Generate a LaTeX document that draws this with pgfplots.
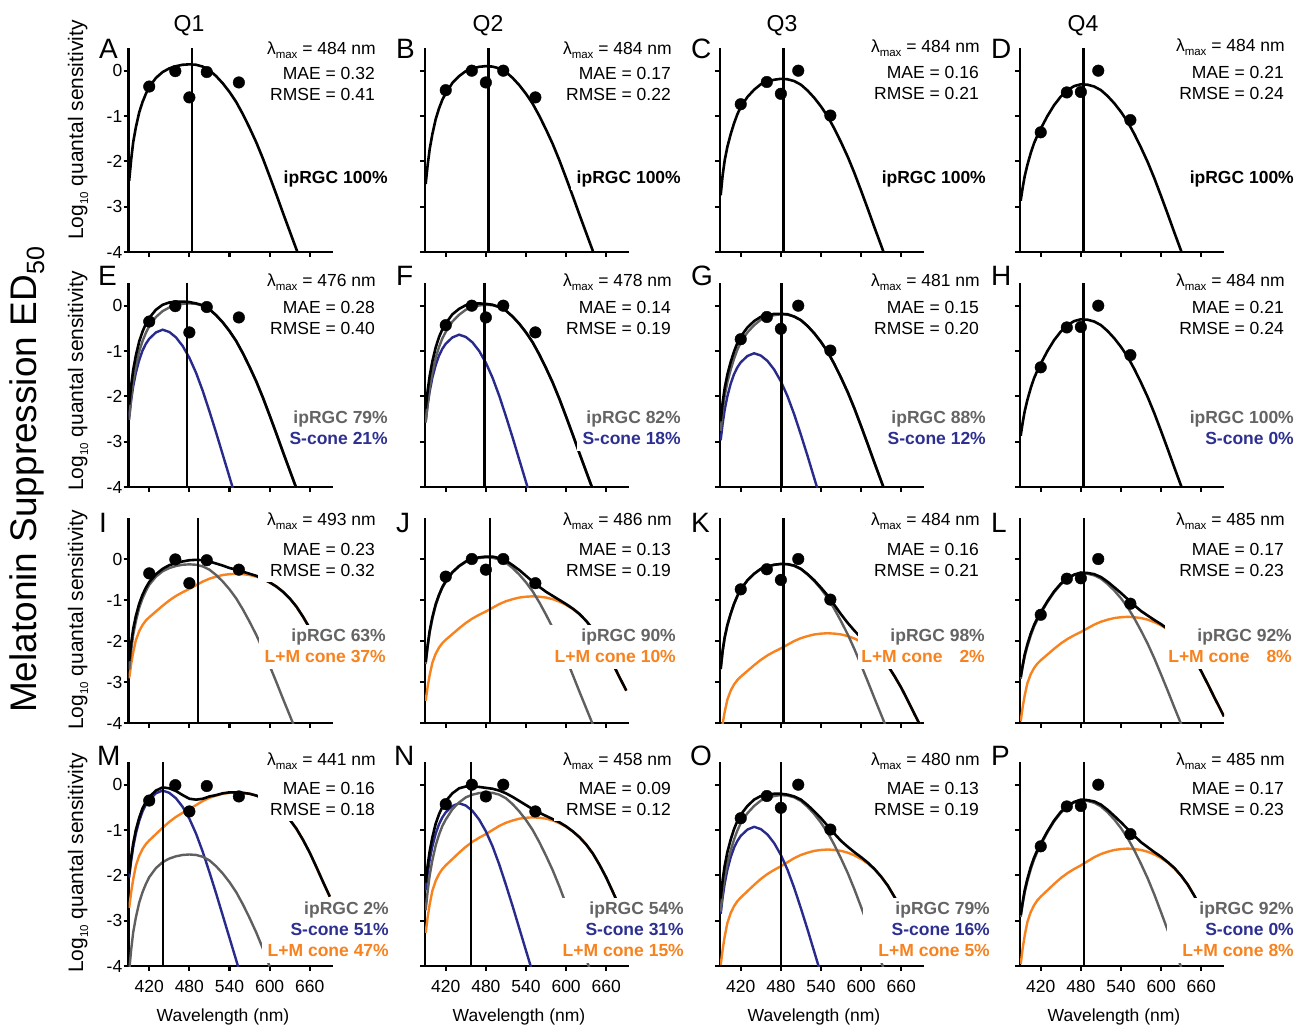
\documentclass[border=0pt]{standalone}
\usepackage{fontspec}
\setmainfont{Liberation Sans}
\usepackage{pgfplots}
\pgfplotsset{compat=1.18}
\definecolor{cgray}{RGB}{95,95,95}
\definecolor{cblue}{RGB}{40,42,140}
\definecolor{corange}{RGB}{247,130,30}
\definecolor{lgray}{RGB}{100,100,100}
\definecolor{lblue}{RGB}{45,48,145}
\definecolor{lorange}{RGB}{247,130,30}
\newcommand{\tf}{\fontsize{17.5pt}{21pt}\selectfont}
\newcommand{\sub}[1]{\raisebox{-0.45ex}{\fontsize{11.5pt}{12pt}\selectfont #1}}
\newcommand{\stats}[6]{%
  \fill[white] ({#1pt-118pt},{-#2pt+17pt}) rectangle ({#1pt+6pt},{-#2pt-#3pt-27pt});
  \node[anchor=base east,inner sep=0pt,font=\tf] at (#1pt,-#2pt) {λ\sub{max} = #4 nm};
  \node[anchor=base east,inner sep=0pt,font=\tf] at ({#1pt-1pt},{-#2pt-#3pt}) {MAE = #5};
  \node[anchor=base east,inner sep=0pt,font=\tf] at ({#1pt-1pt},{-#2pt-#3pt-21pt}) {RMSE = #6};}
\newcommand{\lbox}[4]{\fill[white] ({#1pt-#4pt},{-#2pt+16pt}) rectangle ({#1pt+6pt},{-#3pt-7pt});}
\newcommand{\lab}[4]{\node[anchor=base east,inner sep=0pt,font=\tf\bfseries,text=#4] at (#1pt,-#2pt) {#3};}
\pgfplotsset{
 panel/.style={scale only axis, width=204pt, height=204pt, xmin=389, xmax=694, ymin=-4, ymax=0.5,
   axis x line*=bottom, axis y line*=left, axis line style={line width=2.2pt,-},
   xtick={420,480,540,600,660}, ytick={-4,-3,-2,-1,0}, xticklabels={}, yticklabels={},
   tick align=outside, major tick length=5pt, tick style={line width=2.2pt,black},
   clip mode=individual, anchor=south west,
   ticklabel style={font=\fontsize{17.5pt}{20pt}\selectfont, inner sep=1pt},
   xticklabel style={yshift=-8pt}},
 c1/.style={yticklabels={-4,-3,-2,-1,0}},
 r3/.style={ymax=1, height=205pt},
 r4/.style={xticklabels={420,480,540,600,660}},
 bk/.style={black, line width=2.6pt},
 gr/.style={cgray, line width=2.4pt},
 bl/.style={cblue, line width=2.4pt},
 og/.style={corange, line width=2.4pt},
 vl/.style={black, line width=2.2pt},
 dt/.style={only marks, mark=*, mark size=5.8pt, black},
}
\begin{document}
\begin{tikzpicture}
\useasboundingbox (0pt,0pt) rectangle (1309pt,-1028pt);
% ================= ROW 1 =================
\begin{axis}[panel,c1,at={(128.5pt,-252pt)}]
\addplot[bk] coordinates {(390,-2.43)(393,-1.96)(396,-1.58)(400,-1.25)(405,-0.92)(410,-0.69)(415,-0.51)(420,-0.36)(430,-0.16)(440,-0.03)(450,0.05)(460,0.10)(470,0.13)(480,0.14)(490,0.13)(500,0.09)(510,0.01)(520,-0.12)(530,-0.28)(540,-0.47)(550,-0.69)(560,-0.96)(570,-1.26)(580,-1.58)(590,-1.94)(600,-2.33)(610,-2.73)(620,-3.14)(630,-3.54)(640,-3.94)(650,-4.36)};
\addplot[vl] coordinates {(484,-4)(484,0.5)};
\addplot[dt] coordinates {(420,-0.35)(459,-0.01)(480,-0.59)(506,-0.03)(554,-0.26)};
\end{axis}
\begin{axis}[panel,at={(425pt,-252pt)}]
\addplot[bk] coordinates {(390,-2.50)(393,-2.08)(396,-1.73)(400,-1.40)(405,-1.07)(410,-0.83)(415,-0.64)(420,-0.50)(430,-0.27)(440,-0.12)(450,-0.01)(460,0.05)(470,0.085)(480,0.10)(490,0.09)(500,0.05)(510,-0.03)(520,-0.16)(530,-0.32)(540,-0.51)(550,-0.73)(560,-1.00)(570,-1.30)(580,-1.62)(590,-1.98)(600,-2.37)(610,-2.77)(620,-3.18)(630,-3.58)(640,-3.98)(650,-4.40)};
\addplot[vl] coordinates {(484,-4)(484,0.5)};
\addplot[dt] coordinates {(420,-0.43)(459,0.0)(480,-0.26)(506,0.0)(554,-0.59)};
\end{axis}
\begin{axis}[panel,at={(720pt,-252pt)}]
\addplot[bk] coordinates {(390,-2.75)(393,-2.30)(396,-1.98)(400,-1.68)(405,-1.40)(410,-1.16)(415,-0.96)(420,-0.80)(430,-0.58)(440,-0.42)(450,-0.30)(460,-0.24)(470,-0.20)(480,-0.18)(490,-0.19)(500,-0.23)(510,-0.31)(520,-0.44)(530,-0.60)(540,-0.79)(550,-1.01)(560,-1.28)(570,-1.58)(580,-1.90)(590,-2.26)(600,-2.65)(610,-3.05)(620,-3.46)(630,-3.86)(640,-4.26)};
\addplot[vl] coordinates {(484,-4)(484,0.5)};
\addplot[dt] coordinates {(420,-0.74)(459,-0.25)(480,-0.51)(506,0.0)(554,-0.99)};
\end{axis}
\begin{axis}[panel,at={(1020pt,-252pt)}]
\addplot[bk] coordinates {(390,-2.87)(393,-2.58)(396,-2.33)(400,-2.08)(405,-1.82)(410,-1.60)(415,-1.43)(420,-1.28)(430,-1.00)(440,-0.76)(450,-0.57)(460,-0.43)(470,-0.34)(480,-0.30)(490,-0.31)(500,-0.35)(510,-0.43)(520,-0.56)(530,-0.72)(540,-0.91)(550,-1.13)(560,-1.40)(570,-1.70)(580,-2.02)(590,-2.38)(600,-2.77)(610,-3.17)(620,-3.58)(630,-3.98)(640,-4.38)};
\addplot[vl] coordinates {(484,-4)(484,0.5)};
\addplot[dt] coordinates {(420,-1.36)(459,-0.48)(480,-0.47)(506,0.0)(554,-1.09)};
\end{axis}
% ================= ROW 2 =================
\begin{axis}[panel,c1,at={(128.5pt,-487pt)}]
\addplot[bl] coordinates {(390,-2.45)(393,-2.08)(396,-1.78)(400,-1.48)(405,-1.20)(410,-0.99)(415,-0.84)(420,-0.73)(430,-0.59)(440,-0.53)(450,-0.58)(460,-0.70)(470,-0.89)(480,-1.15)(490,-1.48)(500,-1.88)(510,-2.33)(520,-2.80)(530,-3.29)(540,-3.78)(550,-4.27)};
\addplot[gr] coordinates {(390,-2.52)(393,-2.05)(396,-1.67)(400,-1.34)(405,-1.01)(410,-0.78)(415,-0.60)(420,-0.45)(430,-0.25)(440,-0.12)(450,-0.04)(460,0.01)(470,0.04)(480,0.05)(490,0.04)(500,0.00)(510,-0.08)(520,-0.21)(530,-0.37)(540,-0.56)(550,-0.78)(560,-1.05)(570,-1.35)(580,-1.67)(590,-2.03)(600,-2.42)(610,-2.82)(620,-3.23)(630,-3.63)(640,-4.03)};
\addplot[bk] coordinates {(390,-2.18)(393,-1.76)(396,-1.42)(400,-1.10)(405,-0.79)(410,-0.57)(415,-0.40)(420,-0.27)(430,-0.09)(440,0.02)(450,0.07)(460,0.09)(470,0.09)(480,0.08)(490,0.05)(500,0.01)(510,-0.08)(520,-0.21)(530,-0.37)(540,-0.56)(550,-0.78)(560,-1.05)(570,-1.35)(580,-1.67)(590,-2.03)(600,-2.42)(610,-2.82)(620,-3.23)(630,-3.63)(640,-4.03)};
\addplot[vl] coordinates {(476,-4)(476,0.5)};
\addplot[dt] coordinates {(420,-0.35)(459,-0.01)(480,-0.59)(506,-0.03)(554,-0.26)};
\end{axis}
\begin{axis}[panel,at={(425pt,-487pt)}]
\addplot[bl] coordinates {(390,-2.56)(393,-2.19)(396,-1.89)(400,-1.59)(405,-1.31)(410,-1.10)(415,-0.95)(420,-0.84)(430,-0.70)(440,-0.64)(450,-0.69)(460,-0.81)(470,-1.00)(480,-1.26)(490,-1.59)(500,-1.99)(510,-2.44)(520,-2.91)(530,-3.40)(540,-3.89)(550,-4.38)};
\addplot[gr] coordinates {(390,-2.58)(393,-2.16)(396,-1.81)(400,-1.48)(405,-1.15)(410,-0.91)(415,-0.72)(420,-0.58)(430,-0.35)(440,-0.20)(450,-0.09)(460,-0.03)(470,0.005)(480,0.02)(490,0.01)(500,-0.03)(510,-0.11)(520,-0.24)(530,-0.40)(540,-0.59)(550,-0.81)(560,-1.08)(570,-1.38)(580,-1.70)(590,-2.06)(600,-2.45)(610,-2.85)(620,-3.26)(630,-3.66)(640,-4.06)};
\addplot[bk] coordinates {(390,-2.27)(393,-1.87)(396,-1.55)(400,-1.23)(405,-0.92)(410,-0.69)(415,-0.52)(420,-0.39)(430,-0.19)(440,-0.07)(450,0.01)(460,0.04)(470,0.05)(480,0.04)(490,0.02)(500,-0.03)(510,-0.11)(520,-0.24)(530,-0.40)(540,-0.59)(550,-0.81)(560,-1.08)(570,-1.38)(580,-1.70)(590,-2.06)(600,-2.45)(610,-2.85)(620,-3.26)(630,-3.66)(640,-4.06)};
\addplot[vl] coordinates {(478,-4)(478,0.5)};
\addplot[dt] coordinates {(420,-0.43)(459,0.0)(480,-0.26)(506,0.0)(554,-0.59)};
\end{axis}
\begin{axis}[panel,at={(720pt,-487pt)}]
\addplot[bl] coordinates {(390,-2.97)(393,-2.60)(396,-2.30)(400,-2.00)(405,-1.72)(410,-1.51)(415,-1.36)(420,-1.25)(430,-1.11)(440,-1.05)(450,-1.10)(460,-1.22)(470,-1.41)(480,-1.67)(490,-2.00)(500,-2.40)(510,-2.85)(520,-3.32)(530,-3.81)(540,-4.30)};
\addplot[gr] coordinates {(390,-2.76)(393,-2.31)(396,-1.99)(400,-1.69)(405,-1.41)(410,-1.17)(415,-0.97)(420,-0.81)(430,-0.59)(440,-0.43)(450,-0.31)(460,-0.25)(470,-0.21)(480,-0.19)(490,-0.20)(500,-0.24)(510,-0.32)(520,-0.45)(530,-0.61)(540,-0.80)(550,-1.02)(560,-1.29)(570,-1.59)(580,-1.91)(590,-2.27)(600,-2.66)(610,-3.06)(620,-3.47)(630,-3.87)(640,-4.27)};
\addplot[bk] coordinates {(390,-2.55)(393,-2.13)(396,-1.82)(400,-1.52)(405,-1.24)(410,-1.01)(415,-0.82)(420,-0.68)(430,-0.48)(440,-0.34)(450,-0.245)(460,-0.21)(470,-0.18)(480,-0.18)(490,-0.19)(500,-0.24)(510,-0.32)(520,-0.45)(530,-0.61)(540,-0.80)(550,-1.02)(560,-1.29)(570,-1.59)(580,-1.91)(590,-2.27)(600,-2.66)(610,-3.06)(620,-3.47)(630,-3.87)(640,-4.27)};
\addplot[vl] coordinates {(481,-4)(481,0.5)};
\addplot[dt] coordinates {(420,-0.74)(459,-0.25)(480,-0.51)(506,0.0)(554,-0.99)};
\end{axis}
\begin{axis}[panel,at={(1020pt,-487pt)}]
\addplot[bk] coordinates {(390,-2.87)(393,-2.58)(396,-2.33)(400,-2.08)(405,-1.82)(410,-1.60)(415,-1.43)(420,-1.28)(430,-1.00)(440,-0.76)(450,-0.57)(460,-0.43)(470,-0.34)(480,-0.30)(490,-0.31)(500,-0.35)(510,-0.43)(520,-0.56)(530,-0.72)(540,-0.91)(550,-1.13)(560,-1.40)(570,-1.70)(580,-2.02)(590,-2.38)(600,-2.77)(610,-3.17)(620,-3.58)(630,-3.98)(640,-4.38)};
\addplot[vl] coordinates {(484,-4)(484,0.5)};
\addplot[dt] coordinates {(420,-1.36)(459,-0.48)(480,-0.47)(506,0.0)(554,-1.09)};
\end{axis}
% ================= ROW 3 =================
\begin{axis}[panel,c1,r3,at={(128.5pt,-723pt)}]
\addplot[og] coordinates {(390,-2.91)(393,-2.56)(396,-2.28)(400,-1.98)(405,-1.76)(410,-1.61)(415,-1.50)(420,-1.42)(430,-1.28)(440,-1.14)(450,-1.01)(460,-0.90)(470,-0.81)(480,-0.73)(490,-0.64)(500,-0.55)(510,-0.48)(520,-0.43)(530,-0.39)(540,-0.37)(550,-0.36)(560,-0.37)(570,-0.39)(580,-0.43)(590,-0.49)(600,-0.57)(610,-0.67)(620,-0.80)(630,-0.96)(640,-1.16)(650,-1.41)(660,-1.69)(670,-2.01)(680,-2.34)(688,-2.60)};
\addplot[gr] coordinates {(390,-2.70)(393,-2.23)(396,-1.85)(400,-1.52)(405,-1.19)(410,-0.96)(415,-0.78)(420,-0.63)(430,-0.43)(440,-0.30)(450,-0.22)(460,-0.17)(470,-0.14)(480,-0.13)(490,-0.14)(500,-0.18)(510,-0.26)(520,-0.39)(530,-0.55)(540,-0.74)(550,-0.96)(560,-1.23)(570,-1.53)(580,-1.85)(590,-2.21)(600,-2.60)(610,-3.00)(620,-3.41)(630,-3.81)(640,-4.21)};
\addplot[bk] coordinates {(390,-2.49)(393,-2.06)(396,-1.71)(400,-1.39)(405,-1.09)(410,-0.87)(415,-0.70)(420,-0.56)(430,-0.37)(440,-0.24)(450,-0.15)(460,-0.10)(470,-0.06)(480,-0.03)(490,-0.02)(500,-0.03)(510,-0.06)(520,-0.11)(530,-0.16)(540,-0.22)(550,-0.26)(560,-0.31)(570,-0.36)(580,-0.41)(590,-0.48)(600,-0.57)(610,-0.67)(620,-0.80)(630,-0.96)(640,-1.16)(650,-1.41)(660,-1.69)(670,-2.01)(680,-2.34)(688,-2.60)};
\addplot[vl] coordinates {(493,-4)(493,1)};
\addplot[dt] coordinates {(420,-0.35)(459,-0.01)(480,-0.59)(506,-0.03)(554,-0.26)};
\end{axis}
\begin{axis}[panel,r3,at={(425pt,-723pt)}]
\addplot[og] coordinates {(390,-3.46)(393,-3.11)(396,-2.83)(400,-2.53)(405,-2.31)(410,-2.16)(415,-2.05)(420,-1.97)(430,-1.83)(440,-1.69)(450,-1.56)(460,-1.45)(470,-1.36)(480,-1.28)(490,-1.19)(500,-1.10)(510,-1.03)(520,-0.98)(530,-0.94)(540,-0.92)(550,-0.91)(560,-0.92)(570,-0.94)(580,-0.98)(590,-1.04)(600,-1.12)(610,-1.22)(620,-1.35)(630,-1.51)(640,-1.71)(650,-1.96)(660,-2.24)(670,-2.56)(680,-2.89)(690,-3.21)};
\addplot[gr] coordinates {(390,-2.56)(393,-2.14)(396,-1.79)(400,-1.46)(405,-1.13)(410,-0.89)(415,-0.70)(420,-0.56)(430,-0.33)(440,-0.18)(450,-0.07)(460,-0.01)(470,0.025)(480,0.04)(490,0.03)(500,-0.01)(510,-0.09)(520,-0.22)(530,-0.38)(540,-0.57)(550,-0.79)(560,-1.06)(570,-1.36)(580,-1.68)(590,-2.04)(600,-2.43)(610,-2.83)(620,-3.24)(630,-3.64)(640,-4.04)};
\addplot[bk] coordinates {(390,-2.51)(393,-2.10)(396,-1.75)(400,-1.42)(405,-1.10)(410,-0.87)(415,-0.68)(420,-0.54)(430,-0.32)(440,-0.17)(450,-0.06)(460,0.005)(470,0.04)(480,0.06)(490,0.06)(500,0.02)(510,-0.04)(520,-0.15)(530,-0.27)(540,-0.41)(550,-0.55)(560,-0.68)(570,-0.80)(580,-0.90)(590,-1.00)(600,-1.10)(610,-1.21)(620,-1.34)(630,-1.51)(640,-1.71)(650,-1.96)(660,-2.24)(670,-2.56)(680,-2.89)(690,-3.21)};
\addplot[vl] coordinates {(486,-4)(486,1)};
\addplot[dt] coordinates {(420,-0.43)(459,0.0)(480,-0.26)(506,0.0)(554,-0.59)};
\end{axis}
\begin{axis}[panel,r3,at={(720pt,-723pt)}]
\addplot[og] coordinates {(390,-4.36)(393,-4.01)(396,-3.73)(400,-3.43)(405,-3.21)(410,-3.06)(415,-2.95)(420,-2.87)(430,-2.73)(440,-2.59)(450,-2.46)(460,-2.35)(470,-2.26)(480,-2.18)(490,-2.09)(500,-2.00)(510,-1.93)(520,-1.88)(530,-1.84)(540,-1.82)(550,-1.81)(560,-1.82)(570,-1.84)(580,-1.88)(590,-1.94)(600,-2.02)(610,-2.12)(620,-2.25)(630,-2.41)(640,-2.61)(650,-2.86)(660,-3.14)(670,-3.46)(680,-3.79)(690,-4.11)};
\addplot[gr] coordinates {(390,-2.69)(393,-2.24)(396,-1.92)(400,-1.62)(405,-1.34)(410,-1.10)(415,-0.90)(420,-0.74)(430,-0.52)(440,-0.36)(450,-0.24)(460,-0.18)(470,-0.14)(480,-0.12)(490,-0.13)(500,-0.17)(510,-0.25)(520,-0.38)(530,-0.54)(540,-0.73)(550,-0.95)(560,-1.22)(570,-1.52)(580,-1.84)(590,-2.20)(600,-2.59)(610,-2.99)(620,-3.40)(630,-3.80)(640,-4.20)};
\addplot[bk] coordinates {(390,-2.68)(393,-2.23)(396,-1.91)(400,-1.61)(405,-1.33)(410,-1.09)(415,-0.90)(420,-0.74)(430,-0.52)(440,-0.36)(450,-0.24)(460,-0.18)(470,-0.14)(480,-0.12)(490,-0.125)(500,-0.16)(510,-0.24)(520,-0.37)(530,-0.52)(540,-0.70)(550,-0.89)(560,-1.12)(570,-1.35)(580,-1.56)(590,-1.75)(600,-1.92)(610,-2.07)(620,-2.22)(630,-2.39)(640,-2.60)(650,-2.86)(660,-3.14)(670,-3.46)(680,-3.79)(690,-4.11)};
\addplot[vl] coordinates {(484,-4)(484,1)};
\addplot[dt] coordinates {(420,-0.74)(459,-0.25)(480,-0.51)(506,0.0)(554,-0.99)};
\end{axis}
\begin{axis}[panel,r3,at={(1020pt,-723pt)}]
\addplot[og] coordinates {(390,-3.96)(393,-3.61)(396,-3.33)(400,-3.03)(405,-2.81)(410,-2.66)(415,-2.55)(420,-2.47)(430,-2.33)(440,-2.19)(450,-2.06)(460,-1.95)(470,-1.86)(480,-1.78)(490,-1.69)(500,-1.60)(510,-1.53)(520,-1.48)(530,-1.44)(540,-1.42)(550,-1.41)(560,-1.42)(570,-1.44)(580,-1.48)(590,-1.54)(600,-1.62)(610,-1.72)(620,-1.85)(630,-2.01)(640,-2.21)(650,-2.46)(660,-2.74)(670,-3.06)(680,-3.39)(690,-3.71)(694,-3.84)};
\addplot[gr] coordinates {(390,-2.92)(393,-2.63)(396,-2.38)(400,-2.13)(405,-1.87)(410,-1.65)(415,-1.48)(420,-1.33)(430,-1.05)(440,-0.81)(450,-0.62)(460,-0.48)(470,-0.39)(480,-0.35)(490,-0.36)(500,-0.40)(510,-0.48)(520,-0.61)(530,-0.77)(540,-0.96)(550,-1.18)(560,-1.45)(570,-1.75)(580,-2.07)(590,-2.43)(600,-2.82)(610,-3.22)(620,-3.63)(630,-4.03)};
\addplot[bk] coordinates {(390,-2.88)(393,-2.59)(396,-2.33)(400,-2.08)(405,-1.82)(410,-1.61)(415,-1.44)(420,-1.30)(430,-1.03)(440,-0.79)(450,-0.60)(460,-0.47)(470,-0.38)(480,-0.33)(490,-0.34)(500,-0.37)(510,-0.44)(520,-0.555)(530,-0.69)(540,-0.83)(550,-0.98)(560,-1.13)(570,-1.27)(580,-1.38)(590,-1.49)(600,-1.59)(610,-1.71)(620,-1.84)(630,-2.01)(640,-2.21)(650,-2.46)(660,-2.74)(670,-3.06)(680,-3.39)(690,-3.71)(694,-3.84)};
\addplot[vl] coordinates {(485,-4)(485,1)};
\addplot[dt] coordinates {(420,-1.36)(459,-0.48)(480,-0.47)(506,0.0)(554,-1.09)};
\end{axis}
% ================= ROW 4 =================
\begin{axis}[panel,c1,r4,at={(128.5pt,-966pt)}]
\addplot[og] coordinates {(390,-2.72)(393,-2.37)(396,-2.09)(400,-1.79)(405,-1.57)(410,-1.42)(415,-1.31)(420,-1.23)(430,-1.09)(440,-0.95)(450,-0.82)(460,-0.71)(470,-0.62)(480,-0.54)(490,-0.45)(500,-0.36)(510,-0.29)(520,-0.24)(530,-0.20)(540,-0.18)(550,-0.17)(560,-0.18)(570,-0.20)(580,-0.24)(590,-0.30)(600,-0.38)(610,-0.48)(620,-0.61)(630,-0.77)(640,-0.97)(650,-1.22)(660,-1.50)(670,-1.82)(680,-2.15)(690,-2.47)};
\addplot[bl] coordinates {(390,-2.05)(393,-1.68)(396,-1.38)(400,-1.08)(405,-0.80)(410,-0.59)(415,-0.44)(420,-0.33)(430,-0.19)(440,-0.13)(450,-0.18)(460,-0.30)(470,-0.49)(480,-0.75)(490,-1.08)(500,-1.48)(510,-1.93)(520,-2.40)(530,-2.89)(540,-3.38)(550,-3.87)(560,-4.37)};
\addplot[gr] coordinates {(390,-4.11)(393,-3.64)(396,-3.26)(400,-2.93)(405,-2.60)(410,-2.37)(415,-2.19)(420,-2.04)(430,-1.84)(440,-1.71)(450,-1.63)(460,-1.58)(470,-1.55)(480,-1.54)(490,-1.55)(500,-1.59)(510,-1.67)(520,-1.80)(530,-1.96)(540,-2.15)(550,-2.37)(560,-2.64)(570,-2.94)(580,-3.26)(590,-3.62)(600,-4.01)};
\addplot[bk] coordinates {(390,-1.96)(393,-1.60)(396,-1.30)(400,-1.00)(405,-0.73)(410,-0.52)(415,-0.38)(420,-0.27)(430,-0.13)(440,-0.06)(450,-0.08)(460,-0.14)(470,-0.23)(480,-0.31)(490,-0.33)(500,-0.31)(510,-0.26)(520,-0.23)(530,-0.19)(540,-0.17)(550,-0.17)(560,-0.18)(570,-0.20)(580,-0.24)(590,-0.30)(600,-0.38)(610,-0.48)(620,-0.61)(630,-0.77)(640,-0.97)(650,-1.22)(660,-1.50)(670,-1.82)(680,-2.15)(690,-2.47)};
\addplot[vl] coordinates {(441,-4)(441,0.5)};
\addplot[dt] coordinates {(420,-0.35)(459,-0.01)(480,-0.59)(506,-0.03)(554,-0.26)};
\end{axis}
\begin{axis}[panel,r4,at={(425pt,-966pt)}]
\addplot[og] coordinates {(390,-3.27)(393,-2.92)(396,-2.64)(400,-2.34)(405,-2.12)(410,-1.97)(415,-1.86)(420,-1.78)(430,-1.64)(440,-1.50)(450,-1.37)(460,-1.26)(470,-1.17)(480,-1.09)(490,-1.00)(500,-0.91)(510,-0.84)(520,-0.79)(530,-0.75)(540,-0.73)(550,-0.72)(560,-0.73)(570,-0.75)(580,-0.79)(590,-0.85)(600,-0.93)(610,-1.03)(620,-1.16)(630,-1.32)(640,-1.52)(650,-1.77)(660,-2.05)(670,-2.37)(680,-2.70)(690,-3.02)};
\addplot[bl] coordinates {(390,-2.33)(393,-1.96)(396,-1.66)(400,-1.36)(405,-1.08)(410,-0.87)(415,-0.72)(420,-0.61)(430,-0.47)(440,-0.41)(450,-0.46)(460,-0.58)(470,-0.77)(480,-1.03)(490,-1.36)(500,-1.76)(510,-2.21)(520,-2.68)(530,-3.17)(540,-3.66)(550,-4.15)};
\addplot[gr] coordinates {(390,-2.77)(393,-2.35)(396,-2.00)(400,-1.67)(405,-1.34)(410,-1.10)(415,-0.91)(420,-0.77)(430,-0.54)(440,-0.39)(450,-0.28)(460,-0.22)(470,-0.185)(480,-0.17)(490,-0.18)(500,-0.22)(510,-0.30)(520,-0.43)(530,-0.59)(540,-0.78)(550,-1.00)(560,-1.27)(570,-1.57)(580,-1.89)(590,-2.25)(600,-2.64)(610,-3.04)(620,-3.45)(630,-3.85)(640,-4.25)};
\addplot[bk] coordinates {(390,-2.16)(393,-1.78)(396,-1.47)(400,-1.16)(405,-0.86)(410,-0.65)(415,-0.49)(420,-0.36)(430,-0.19)(440,-0.08)(450,-0.04)(460,-0.04)(470,-0.05)(480,-0.07)(490,-0.09)(500,-0.13)(510,-0.19)(520,-0.27)(530,-0.36)(540,-0.45)(550,-0.54)(560,-0.62)(570,-0.69)(580,-0.76)(590,-0.83)(600,-0.92)(610,-1.03)(620,-1.16)(630,-1.32)(640,-1.52)(650,-1.77)(660,-2.05)(670,-2.37)(680,-2.70)(690,-3.02)};
\addplot[vl] coordinates {(458,-4)(458,0.5)};
\addplot[dt] coordinates {(420,-0.43)(459,0.0)(480,-0.26)(506,0.0)(554,-0.59)};
\end{axis}
\begin{axis}[panel,r4,at={(720pt,-966pt)}]
\addplot[og] coordinates {(390,-3.98)(393,-3.63)(396,-3.35)(400,-3.05)(405,-2.83)(410,-2.68)(415,-2.57)(420,-2.49)(430,-2.35)(440,-2.21)(450,-2.08)(460,-1.97)(470,-1.88)(480,-1.80)(490,-1.71)(500,-1.62)(510,-1.55)(520,-1.50)(530,-1.46)(540,-1.44)(550,-1.43)(560,-1.44)(570,-1.46)(580,-1.50)(590,-1.56)(600,-1.64)(610,-1.74)(620,-1.87)(630,-2.03)(640,-2.23)(650,-2.48)(660,-2.76)(670,-3.08)(680,-3.41)(690,-3.73)};
\addplot[bl] coordinates {(390,-2.85)(393,-2.48)(396,-2.18)(400,-1.88)(405,-1.60)(410,-1.39)(415,-1.24)(420,-1.13)(430,-0.99)(440,-0.93)(450,-0.98)(460,-1.10)(470,-1.29)(480,-1.55)(490,-1.88)(500,-2.28)(510,-2.73)(520,-3.20)(530,-3.69)(540,-4.18)};
\addplot[gr] coordinates {(390,-2.80)(393,-2.35)(396,-2.03)(400,-1.73)(405,-1.45)(410,-1.21)(415,-1.01)(420,-0.85)(430,-0.63)(440,-0.47)(450,-0.35)(460,-0.29)(470,-0.25)(480,-0.23)(490,-0.24)(500,-0.28)(510,-0.36)(520,-0.49)(530,-0.65)(540,-0.84)(550,-1.06)(560,-1.33)(570,-1.63)(580,-1.95)(590,-2.31)(600,-2.70)(610,-3.10)(620,-3.51)(630,-3.91)(640,-4.31)};
\addplot[bk] coordinates {(390,-2.51)(393,-2.10)(396,-1.79)(400,-1.49)(405,-1.21)(410,-0.98)(415,-0.80)(420,-0.66)(430,-0.47)(440,-0.33)(450,-0.25)(460,-0.22)(470,-0.20)(480,-0.20)(490,-0.22)(500,-0.26)(510,-0.33)(520,-0.45)(530,-0.59)(540,-0.74)(550,-0.91)(560,-1.08)(570,-1.24)(580,-1.37)(590,-1.49)(600,-1.60)(610,-1.72)(620,-1.86)(630,-2.03)(640,-2.23)(650,-2.48)(660,-2.76)(670,-3.08)(680,-3.41)(690,-3.73)};
\addplot[vl] coordinates {(480,-4)(480,0.5)};
\addplot[dt] coordinates {(420,-0.74)(459,-0.25)(480,-0.51)(506,0.0)(554,-0.99)};
\end{axis}
\begin{axis}[panel,r4,at={(1020pt,-966pt)}]
\addplot[og] coordinates {(390,-3.96)(393,-3.61)(396,-3.33)(400,-3.03)(405,-2.81)(410,-2.66)(415,-2.55)(420,-2.47)(430,-2.33)(440,-2.19)(450,-2.06)(460,-1.95)(470,-1.86)(480,-1.78)(490,-1.69)(500,-1.60)(510,-1.53)(520,-1.48)(530,-1.44)(540,-1.42)(550,-1.41)(560,-1.42)(570,-1.44)(580,-1.48)(590,-1.54)(600,-1.62)(610,-1.72)(620,-1.85)(630,-2.01)(640,-2.21)(650,-2.46)(660,-2.74)(670,-3.06)(680,-3.39)(690,-3.71)};
\addplot[gr] coordinates {(390,-2.92)(393,-2.63)(396,-2.38)(400,-2.13)(405,-1.87)(410,-1.65)(415,-1.48)(420,-1.33)(430,-1.05)(440,-0.81)(450,-0.62)(460,-0.48)(470,-0.39)(480,-0.35)(490,-0.36)(500,-0.40)(510,-0.48)(520,-0.61)(530,-0.77)(540,-0.96)(550,-1.18)(560,-1.45)(570,-1.75)(580,-2.07)(590,-2.43)(600,-2.82)(610,-3.22)(620,-3.63)(630,-4.03)};
\addplot[bk] coordinates {(390,-2.88)(393,-2.59)(396,-2.33)(400,-2.08)(405,-1.82)(410,-1.61)(415,-1.44)(420,-1.30)(430,-1.03)(440,-0.79)(450,-0.60)(460,-0.47)(470,-0.38)(480,-0.33)(490,-0.34)(500,-0.37)(510,-0.44)(520,-0.555)(530,-0.69)(540,-0.83)(550,-0.98)(560,-1.13)(570,-1.27)(580,-1.38)(590,-1.49)(600,-1.59)(610,-1.71)(620,-1.84)(630,-2.01)(640,-2.21)(650,-2.46)(660,-2.74)(670,-3.06)(680,-3.39)(690,-3.71)};
\addplot[vl] coordinates {(485,-4)(485,0.5)};
\addplot[dt] coordinates {(420,-1.36)(459,-0.48)(480,-0.47)(506,0.0)(554,-1.09)};
\end{axis}
% ================= STAT BOXES =================
\stats{376}{54}{25}{484}{0.32}{0.41}
\stats{672}{54}{25}{484}{0.17}{0.22}
\stats{980}{52}{26}{484}{0.16}{0.21}
\stats{1285}{51}{27}{484}{0.21}{0.24}
\stats{376}{286}{27}{476}{0.28}{0.40}
\stats{672}{286}{27}{478}{0.14}{0.19}
\stats{980}{286}{27}{481}{0.15}{0.20}
\stats{1285}{286}{27}{484}{0.21}{0.24}
\stats{376}{525}{30}{493}{0.23}{0.32}
\stats{672}{525}{30}{486}{0.13}{0.19}
\stats{980}{525}{30}{484}{0.16}{0.21}
\stats{1285}{525}{30}{485}{0.17}{0.23}
\stats{376}{765}{29}{441}{0.16}{0.18}
\stats{672}{765}{29}{458}{0.09}{0.12}
\stats{980}{765}{29}{480}{0.13}{0.19}
\stats{1285}{765}{29}{485}{0.17}{0.23}
% ================= COMPONENT LABELS =================
\lbox{388}{183}{183}{110}\lab{388}{183}{ipRGC 100\%}{black}
\lbox{681}{183}{183}{110}\lab{681}{183}{ipRGC 100\%}{black}
\lbox{986}{183}{183}{110}\lab{986}{183}{ipRGC 100\%}{black}
\lbox{1294}{183}{183}{110}\lab{1294}{183}{ipRGC 100\%}{black}
\lbox{388}{423}{444}{104}\lab{388}{423}{ipRGC 79\%}{lgray}\lab{388}{444}{S-cone 21\%}{lblue}
\lbox{681}{423}{444}{104}\lab{681}{423}{ipRGC 82\%}{lgray}\lab{681}{444}{S-cone 18\%}{lblue}
\lbox{986}{423}{444}{104}\lab{986}{423}{ipRGC 88\%}{lgray}\lab{986}{444}{S-cone 12\%}{lblue}
\lbox{1294}{423}{444}{110}\lab{1294}{423}{ipRGC 100\%}{lgray}\lab{1294}{444}{S-cone 0\%}{lblue}
\lbox{386}{641}{662}{127}\lab{386}{641}{ipRGC 63\%}{lgray}\lab{386}{662}{L+M cone 37\%}{lorange}
\lbox{676}{641}{662}{127}\lab{676}{641}{ipRGC 90\%}{lgray}\lab{676}{662}{L+M cone 10\%}{lorange}
\lbox{985}{641}{662}{127}\lab{985}{641}{ipRGC 98\%}{lgray}\lab{985}{662}{L+M cone\hspace{17pt}2\%}{lorange}
\lbox{1292}{641}{662}{127}\lab{1292}{641}{ipRGC 92\%}{lgray}\lab{1292}{662}{L+M cone\hspace{17pt}8\%}{lorange}
\lbox{389}{914}{956}{127}\lab{389}{914}{ipRGC 2\%}{lgray}\lab{389}{935}{S-cone 51\%}{lblue}\lab{389}{956}{L+M cone 47\%}{lorange}
\lbox{684}{914}{956}{127}\lab{684}{914}{ipRGC 54\%}{lgray}\lab{684}{935}{S-cone 31\%}{lblue}\lab{684}{956}{L+M cone 15\%}{lorange}
\lbox{990}{914}{956}{127}\lab{990}{914}{ipRGC 79\%}{lgray}\lab{990}{935}{S-cone 16\%}{lblue}\lab{990}{956}{L+M cone 5\%}{lorange}
\lbox{1294}{914}{956}{127}\lab{1294}{914}{ipRGC 92\%}{lgray}\lab{1294}{935}{S-cone 0\%}{lblue}\lab{1294}{956}{L+M cone 8\%}{lorange}
% ================= PANEL LETTERS =================
\foreach \L/\x/\y in {A/99/58,B/396/58,C/691/58,D/991/58,E/98/285,F/396/285,G/691/285,H/991/285,I/99/532,J/396/532,K/691/532,L/991/532,M/97/765,N/394/765,O/690/765,P/991/765}{
  \node[anchor=base west,inner sep=0pt,font=\fontsize{28pt}{32pt}\selectfont] at (\x pt,-\y pt) {\L};}
% ================= Q HEADERS =================
\foreach \Q/\x in {Q1/189,Q2/488,Q3/782,Q4/1083}{
  \node[anchor=base,inner sep=0pt,font=\fontsize{23pt}{27pt}\selectfont] at (\x pt,-31pt) {\Q};}
% ================= Y LABELS =================
\foreach \y in {130,381,620,863}{
  \node[rotate=90,anchor=center,inner sep=0pt,font=\fontsize{21pt}{24pt}\selectfont] at (78pt,-\y pt) {Log\sub{10} quantal sensitivity};}
\node[rotate=90,anchor=center,inner sep=0pt,font=\fontsize{37pt}{40pt}\selectfont] at (27pt,-480pt) {Melatonin Suppression ED\raisebox{-0.4ex}{\fontsize{25pt}{27pt}\selectfont 50}};
% ================= X LABELS =================
\foreach \x in {223,519,814,1114}{
  \node[anchor=base,inner sep=0pt,font=\fontsize{17.5pt}{21pt}\selectfont] at (\x pt,-1021pt) {Wavelength (nm)};}
\end{tikzpicture}
\end{document}
